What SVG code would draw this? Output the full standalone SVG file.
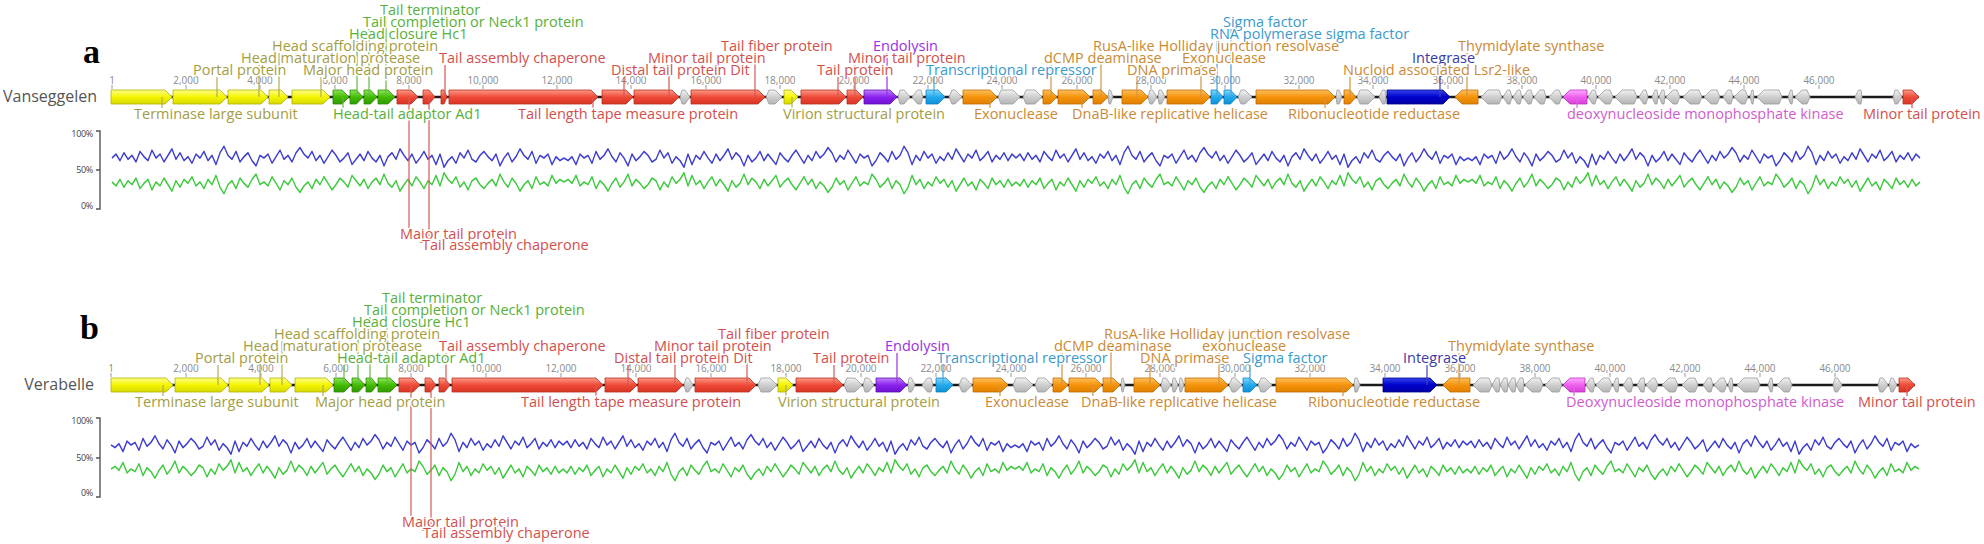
<svg xmlns="http://www.w3.org/2000/svg" xmlns:xlink="http://www.w3.org/1999/xlink" width="1984" height="544" viewBox="0 0 1984 544">
<style>
.lb{font-family:"Open Sans","DejaVu Sans",sans-serif;font-size:14.5px;stroke:#fff;stroke-width:3px;paint-order:stroke;stroke-linejoin:round}
.ol{fill:#a39d3f}.gn{fill:#57b03a}.rd{fill:#d2504c}.pu{fill:#9a30e0}.cy{fill:#3b99cc}.or{fill:#cb8a36}.bl{fill:#3a3aa8}.mg{fill:#cf5ccf}
.tk{font-family:"Open Sans","DejaVu Sans",sans-serif;font-size:10px;fill:#8a8a8a;text-anchor:middle}
.nm{font-family:"Open Sans","DejaVu Sans",sans-serif;font-size:16px;fill:#555;text-anchor:end}
.pl{font-family:"Liberation Serif","Times New Roman",serif;font-size:34px;font-weight:bold;fill:#000}
.pc{font-family:"Open Sans","DejaVu Sans",sans-serif;font-size:9px;fill:#444;text-anchor:end;letter-spacing:-0.3px}
.y,.g,.r,.x,.o,.c,.b,.p,.m{stroke-width:.8;stroke-linejoin:round}
.y{fill:url(#gy);stroke:#b3b300}.g{fill:url(#gg);stroke:#2e8a00}.r{fill:url(#gr);stroke:#b83020}.x{fill:url(#gx);stroke:#9a9a9a}.o{fill:url(#go);stroke:#c06d00}.c{fill:url(#gc);stroke:#1280c0}.b{fill:url(#gb);stroke:#000080}.p{fill:url(#gp);stroke:#6010b0}.m{fill:url(#gm);stroke:#c030c0}
.ld{fill:none;stroke-width:1.2}
.bk{stroke:#1a1a1a;stroke-width:2.5}
.tm{stroke:#999;stroke-width:1;fill:none}
.br{fill:none;stroke:#555;stroke-width:1.4}
.bu{fill:none;stroke:#3b3bd0;stroke-width:1.3;stroke-linejoin:round;vector-effect:non-scaling-stroke}
.gu{fill:none;stroke:#3cc83c;stroke-width:1.3;stroke-linejoin:round;vector-effect:non-scaling-stroke}
</style>
<defs>
<linearGradient id="gy" x1="0" y1="0" x2="0" y2="1"><stop offset="0" stop-color="#ffff8a"/><stop offset=".5" stop-color="#f5f500"/><stop offset="1" stop-color="#d8d800"/></linearGradient>
<linearGradient id="gg" x1="0" y1="0" x2="0" y2="1"><stop offset="0" stop-color="#8ae85a"/><stop offset=".5" stop-color="#44bb00"/><stop offset="1" stop-color="#2f9a00"/></linearGradient>
<linearGradient id="gr" x1="0" y1="0" x2="0" y2="1"><stop offset="0" stop-color="#ff9a88"/><stop offset=".5" stop-color="#f04a38"/><stop offset="1" stop-color="#d83424"/></linearGradient>
<linearGradient id="gx" x1="0" y1="0" x2="0" y2="1"><stop offset="0" stop-color="#f2f2f2"/><stop offset=".5" stop-color="#cfcfcf"/><stop offset="1" stop-color="#b5b5b5"/></linearGradient>
<linearGradient id="go" x1="0" y1="0" x2="0" y2="1"><stop offset="0" stop-color="#ffc060"/><stop offset=".5" stop-color="#f5940a"/><stop offset="1" stop-color="#e08000"/></linearGradient>
<linearGradient id="gc" x1="0" y1="0" x2="0" y2="1"><stop offset="0" stop-color="#80d8ff"/><stop offset=".5" stop-color="#22aaee"/><stop offset="1" stop-color="#1090d8"/></linearGradient>
<linearGradient id="gb" x1="0" y1="0" x2="0" y2="1"><stop offset="0" stop-color="#3344ee"/><stop offset=".5" stop-color="#0000cc"/><stop offset="1" stop-color="#0000a8"/></linearGradient>
<linearGradient id="gp" x1="0" y1="0" x2="0" y2="1"><stop offset="0" stop-color="#c080ff"/><stop offset=".5" stop-color="#8a22ee"/><stop offset="1" stop-color="#7010d0"/></linearGradient>
<linearGradient id="gm" x1="0" y1="0" x2="0" y2="1"><stop offset="0" stop-color="#ffaaff"/><stop offset=".5" stop-color="#f060f0"/><stop offset="1" stop-color="#d840d8"/></linearGradient>
<path id="nz" d="M0,0L4,-3 8,2 12,-4 16,1 20,-2 24,3 28,-5 32,-1 36,2 40,-6 44,0 48,-3 52,3 56,-2 60,-7 64,1 68,-4 72,2 76,-1 80,4 84,-3 88,0 92,-5 96,2 100,-2 104,5 108,-4 112,-9 116,-2 120,1 124,-5 128,3 132,-1 136,-4 140,2 144,6 148,-2 152,0 156,-3 160,4 164,-1 168,-6 172,1 176,-2 180,3 184,-4 188,-8 192,-3 196,0 200,-5 204,2 208,-2 212,4 216,-1 220,-6 224,-2 228,3 232,0 236,-4 240,5 244,1 248,-3 252,2 256,-5 260,0 264,3 268,-2 272,6 276,-1 280,-4 284,1 288,-7 292,-2 296,2 300,-3 304,4 308,0 312,-5 316,1 320,-2 324,5 328,-3 332,7 336,2 340,-1 344,4 348,-4 352,0 356,-6 360,1 364,3 368,-2 372,-5 376,-1 380,2 384,-3 388,6 392,0 396,-4 400,3 404,-1 408,-7 412,-2 416,1 420,-5 424,4 428,-2 432,0 436,-3 440,5 444,-1 448,2 452,0"/>
</defs>
<rect width="1984" height="544" fill="#fff"/>

<!-- ================= PANEL A ================= -->
<g id="panel-a">
<text class="pl" x="83" y="63">a</text>
<text class="nm" x="97" y="102">Vanseggelen</text>
<g id="a-ruler">
<path class="tm" d="M112,85V89M186,85V89M260,85V89M335,85V89M409,85V89M483,85V89M557,85V89M631,85V89M706,85V89M780,85V89M854,85V89M928,85V89M1002,85V89M1077,85V89M1151,85V89M1225,85V89M1299,85V89M1373,85V89M1448,85V89M1522,85V89M1596,85V89M1670,85V89M1744,85V89M1819,85V89"/>
<text class="tk" y="84"><tspan x="112">1</tspan><tspan x="186">2,000</tspan><tspan x="260">4,000</tspan><tspan x="335">6,000</tspan><tspan x="409">8,000</tspan><tspan x="483">10,000</tspan><tspan x="557">12,000</tspan><tspan x="631">14,000</tspan><tspan x="706">16,000</tspan><tspan x="780">18,000</tspan><tspan x="854">20,000</tspan><tspan x="928">22,000</tspan><tspan x="1002">24,000</tspan><tspan x="1077">26,000</tspan><tspan x="1151">28,000</tspan><tspan x="1225">30,000</tspan><tspan x="1299">32,000</tspan><tspan x="1373">34,000</tspan><tspan x="1448">36,000</tspan><tspan x="1522">38,000</tspan><tspan x="1596">40,000</tspan><tspan x="1670">42,000</tspan><tspan x="1744">44,000</tspan><tspan x="1819">46,000</tspan></text>
</g>
<line class="bk" x1="111" y1="97" x2="1919" y2="97"/>
<g id="a-genes">
<g id="a-n1"><path class="y" d="M111,90H165L172,97L165,104H111Z"/></g>
<g id="a-n2"><path class="y" d="M173,90H220L227,97L220,104H173Z"/></g>
<g id="a-n3"><path class="y" d="M228,90H261L268,97L261,104H228Z"/></g>
<g id="a-n4"><path class="y" d="M269,90H281L288,97L281,104H269Z"/></g>
<g id="a-n5"><path class="y" d="M292,90H323L330,97L323,104H292Z"/></g>
<g id="a-n6"><path class="g" d="M333,90H342L349,97L342,104H333Z"/></g>
<g id="a-n7"><path class="g" d="M350,90H356.5L363,97L356.5,104H350Z"/></g>
<g id="a-n8"><path class="g" d="M364,90H370.5L377,97L370.5,104H364Z"/></g>
<g id="a-n9"><path class="g" d="M378,90H388L395,97L388,104H378Z"/></g>
<g id="a-n10"><path class="r" d="M397,90H411L418,97L411,104H397Z"/></g>
<g id="a-n11"><path class="r" d="M423,90H429L435,97L429,104H423Z"/></g>
<g id="a-n12"><path class="r" d="M441,90H444L447,97L444,104H441Z"/></g>
<g id="a-n13"><path class="r" d="M449,90H591L598,97L591,104H449Z"/></g>
<g id="a-n14"><path class="r" d="M602,90H626L633,97L626,104H602Z"/></g>
<g id="a-n15"><path class="r" d="M634,90H672L679,97L672,104H634Z"/></g>
<g id="a-n16"><path class="x" d="M680,97L682,90H685L690,97L685,104H682Z"/></g>
<g id="a-n17"><path class="r" d="M691,90H758L765,97L758,104H691Z"/></g>
<g id="a-n18"><path class="x" d="M766,97L769,90H775L782,97L775,104H769Z"/></g>
<g id="a-n19"><path class="y" d="M784,90H791L798,97L791,104H784Z"/></g>
<g id="a-n20"><path class="r" d="M801,90H839L846,97L839,104H801Z"/></g>
<g id="a-n21"><path class="r" d="M847,90H856L863,97L856,104H847Z"/></g>
<g id="a-n22"><path class="p" d="M864,90H890L897,97L890,104H864Z"/></g>
<g id="a-n23"><path class="x" d="M898,97L900,90H904L910,97L904,104H900Z"/></g>
<g id="a-n24"><path class="x" d="M923,97L921,90H917.5L912,97L917.5,104H921Z"/></g>
<g id="a-n25"><path class="c" d="M926,90H938L945,97L938,104H926Z"/></g>
<g id="a-n26"><path class="x" d="M949,97L952,90H955L962,97L955,104H952Z"/></g>
<g id="a-n27"><path class="o" d="M963,90H990L997,97L990,104H963Z"/></g>
<g id="a-n28"><path class="x" d="M998,97L1001,90H1013L1020,97L1013,104H1001Z"/></g>
<g id="a-n29"><path class="x" d="M1023,97L1026,90H1035L1042,97L1035,104H1026Z"/></g>
<g id="a-n30"><path class="o" d="M1043,90H1050L1057,97L1050,104H1043Z"/></g>
<g id="a-n31"><path class="o" d="M1058,90H1083L1090,97L1083,104H1058Z"/></g>
<g id="a-n32"><path class="o" d="M1093,90H1101L1108,97L1101,104H1093Z"/></g>
<g id="a-n33"><path class="x" d="M1108,97L1109,90H1110.5L1113,97L1110.5,104H1109Z"/></g>
<g id="a-n34"><path class="o" d="M1122,90H1141L1148,97L1141,104H1122Z"/></g>
<g id="a-n35"><path class="x" d="M1148,97L1150,90H1152.5L1157,97L1152.5,104H1150Z"/></g>
<g id="a-n36"><path class="x" d="M1158,97L1159,90H1161.5L1165,97L1161.5,104H1159Z"/></g>
<g id="a-n37"><path class="o" d="M1167,90H1203L1210,97L1203,104H1167Z"/></g>
<g id="a-n38"><path class="c" d="M1211,90H1217L1223,97L1217,104H1211Z"/></g>
<g id="a-n39"><path class="c" d="M1224,90H1230.5L1237,97L1230.5,104H1224Z"/></g>
<g id="a-n40"><path class="x" d="M1238,97L1241,90H1245L1252,97L1245,104H1241Z"/></g>
<g id="a-n41"><path class="o" d="M1256,90H1328L1335,97L1328,104H1256Z"/></g>
<g id="a-n42"><path class="x" d="M1336,97L1337,90H1339L1342,97L1339,104H1337Z"/></g>
<g id="a-n43"><path class="o" d="M1344,90H1350L1356,97L1350,104H1344Z"/></g>
<g id="a-n44"><path class="x" d="M1357,97L1360,90H1368L1375,97L1368,104H1360Z"/></g>
<g id="a-n45"><path class="x" d="M1386,97L1385,90H1382.5L1379,97L1382.5,104H1385Z"/></g>
<g id="a-n46"><path class="b" d="M1387,90H1443L1450,97L1443,104H1387Z"/></g>
<g id="a-n47"><path class="o" d="M1478,90H1462L1455,97L1462,104H1478Z"/></g>
<g id="a-n48"><path class="x" d="M1502,97L1499,90H1488L1481,97L1488,104H1499Z"/></g>
<g id="a-n49"><path class="x" d="M1512,97L1510,90H1507.5L1503,97L1507.5,104H1510Z"/></g>
<g id="a-n50"><path class="x" d="M1522,97L1520,90H1517.5L1513,97L1517.5,104H1520Z"/></g>
<g id="a-n51"><path class="x" d="M1533,97L1531,90H1528L1523,97L1528,104H1531Z"/></g>
<g id="a-n52"><path class="x" d="M1546,97L1544,90H1540L1534,97L1540,104H1544Z"/></g>
<g id="a-n53"><path class="x" d="M1562,97L1559,90H1555.5L1549,97L1555.5,104H1559Z"/></g>
<g id="a-n54"><path class="m" d="M1587,90H1570L1563,97L1570,104H1587Z"/></g>
<g id="a-n55"><path class="x" d="M1597,97L1595,90H1592.5L1588,97L1592.5,104H1595Z"/></g>
<g id="a-n56"><path class="x" d="M1613,97L1610,90H1605L1598,97L1605,104H1610Z"/></g>
<g id="a-n57"><path class="x" d="M1637,97L1634,90H1622L1615,97L1622,104H1634Z"/></g>
<g id="a-n58"><path class="x" d="M1648,97L1646,90H1643.5L1639,97L1643.5,104H1646Z"/></g>
<g id="a-n59"><path class="x" d="M1658,97L1657,90H1655L1652,97L1655,104H1657Z"/></g>
<g id="a-n60"><path class="x" d="M1665,97L1664,90H1662L1659,97L1662,104H1664Z"/></g>
<g id="a-n61"><path class="x" d="M1680,97L1677,90H1673L1666,97L1673,104H1677Z"/></g>
<g id="a-n62"><path class="x" d="M1702,97L1699,90H1690L1683,97L1690,104H1699Z"/></g>
<g id="a-n63"><path class="x" d="M1720,97L1717,90H1711L1704,97L1711,104H1717Z"/></g>
<g id="a-n64"><path class="x" d="M1733,97L1731,90H1728L1723,97L1728,104H1731Z"/></g>
<g id="a-n65"><path class="x" d="M1748,97L1745,90H1741L1734,97L1741,104H1745Z"/></g>
<g id="a-n66"><path class="x" d="M1754,97L1753,90H1752L1750,97L1752,104H1753Z"/></g>
<g id="a-n67"><path class="x" d="M1782,97L1779,90H1764L1757,97L1764,104H1779Z"/></g>
<g id="a-n68"><path class="x" d="M1793,97L1792,90H1790.5L1788,97L1790.5,104H1792Z"/></g>
<g id="a-n69"><path class="x" d="M1810,97L1807,90H1802L1795,97L1802,104H1807Z"/></g>
<g id="a-n70"><path class="x" d="M1862,97L1861,90H1858.5L1855,97L1858.5,104H1861Z"/></g>
<g id="a-n71"><path class="x" d="M1893,97L1895,90H1897.5L1902,97L1897.5,104H1895Z"/></g>
<g id="a-n72"><path class="r" d="M1903,90H1912L1919,97L1912,104H1903Z"/></g>
</g>
<g id="a-plot">
<path class="br" d="M96,131H100V209H96M96,170H100"/>
<text class="pc" x="93" y="137">100%</text>
<text class="pc" x="93" y="173">50%</text>
<text class="pc" x="93" y="209">0%</text>
<use xlink:href="#nz" class="bu" transform="translate(112,158) scale(1,1.3)"/>
<use xlink:href="#nz" class="bu" transform="translate(1016,158) scale(-1,1.3)"/>
<use xlink:href="#nz" class="bu" transform="translate(1016,158) scale(1,1.3)"/>
<use xlink:href="#nz" class="bu" transform="translate(1920,158) scale(-1,1.3)"/>
<use xlink:href="#nz" class="gu" transform="translate(112,182) scale(1,-1.3)"/>
<use xlink:href="#nz" class="gu" transform="translate(1016,182) scale(-1,-1.3)"/>
<use xlink:href="#nz" class="gu" transform="translate(1016,182) scale(1,-1.3)"/>
<use xlink:href="#nz" class="gu" transform="translate(1920,182) scale(-1,-1.3)"/>
</g>
<g id="a-connectors">
<path class="ld" stroke="#b3ac55" d="M162,97V108M217,97V77M321,97V77M259,97V65M279,97V53M792,97V108"/>
<path class="ld" stroke="#66b848" d="M386,97V17M369,97V29M357,97V41M343,97V108"/>
<path class="ld" stroke="#d65a56" d="M445,97V65M409,97V228M429,97V239M593,97V108M624,97V77M669,97V65M755,97V53M838,97V77M855,97V65M1912,97V108"/>
<path class="ld" stroke="#9a30e0" d="M887,97V53"/>
<path class="ld" stroke="#4aa3d3" d="M934,97V77M1217,97V41M1231,97V29"/>
<path class="ld" stroke="#d09445" d="M990,97V108M1082,97V108M1051,97V65M1101,97V53M1137,97V77M1201,97V65M1325,97V108M1350,97V77M1467,97V53"/>
<path class="ld" stroke="#4040b0" d="M1440,97V65"/>
<path class="ld" stroke="#d46ad4" d="M1577,97V108"/>
</g>
<g id="a-labels">
<text class="lb gn" x="380" y="15">Tail terminator</text>
<text class="lb gn" x="363" y="27">Tail completion or Neck1 protein</text>
<text class="lb cy" x="1223" y="27">Sigma factor</text>
<text class="lb gn" x="349" y="39">Head closure Hc1</text>
<text class="lb cy" x="1210" y="39">RNA polymerase sigma factor</text>
<text class="lb ol" x="272" y="51">Head scaffolding protein</text>
<text class="lb rd" x="721" y="51">Tail fiber protein</text>
<text class="lb pu" x="873" y="51">Endolysin</text>
<text class="lb or" x="1093" y="51">RusA-like Holliday junction resolvase</text>
<text class="lb or" x="1458" y="51">Thymidylate synthase</text>
<text class="lb ol" x="241" y="63">Head maturation protease</text>
<text class="lb rd" x="439" y="63">Tail assembly chaperone</text>
<text class="lb rd" x="648" y="63">Minor tail protein</text>
<text class="lb rd" x="848" y="63">Minor tail protein</text>
<text class="lb or" x="1044" y="63">dCMP deaminase</text>
<text class="lb or" x="1182" y="63">Exonuclease</text>
<text class="lb bl" x="1412" y="63">Integrase</text>
<text class="lb ol" x="193" y="75">Portal protein</text>
<text class="lb ol" x="303" y="75">Major head protein</text>
<text class="lb rd" x="611" y="75">Distal tail protein Dit</text>
<text class="lb rd" x="817" y="75">Tail protein</text>
<text class="lb cy" x="926" y="75">Transcriptional repressor</text>
<text class="lb or" x="1127" y="75">DNA primase</text>
<text class="lb or" x="1343" y="75">Nucloid associated Lsr2-like</text>
<text class="lb ol" x="134" y="119">Terminase large subunit</text>
<text class="lb gn" x="333" y="119">Head-tail adaptor Ad1</text>
<text class="lb rd" x="518" y="119">Tail length tape measure protein</text>
<text class="lb ol" x="783" y="119">Virion structural protein</text>
<text class="lb or" x="974" y="119">Exonuclease</text>
<text class="lb or" x="1072" y="119">DnaB-like replicative helicase</text>
<text class="lb or" x="1288" y="119">Ribonucleotide reductase</text>
<text class="lb mg" x="1567" y="119">deoxynucleoside monophosphate kinase</text>
<text class="lb rd" x="1863" y="119">Minor tail protein</text>
<text class="lb rd" x="400" y="239">Major tail protein</text>
<text class="lb rd" x="422" y="250">Tail assembly chaperone</text>
</g>
</g>

<!-- ================= PANEL B ================= -->
<g id="panel-b" transform="translate(0,288)">
<text class="pl" x="80" y="51">b</text>
<text class="nm" x="94" y="102">Verabelle</text>
<g id="b-ruler">
<path class="tm" d="M111,85V89M186,85V89M261,85V89M336,85V89M411,85V89M486,85V89M561,85V89M636,85V89M711,85V89M786,85V89M861,85V89M936,85V89M1011,85V89M1086,85V89M1160,85V89M1235,85V89M1310,85V89M1385,85V89M1460,85V89M1535,85V89M1610,85V89M1685,85V89M1760,85V89M1835,85V89"/>
<text class="tk" y="84"><tspan x="111">1</tspan><tspan x="186">2,000</tspan><tspan x="261">4,000</tspan><tspan x="336">6,000</tspan><tspan x="411">8,000</tspan><tspan x="486">10,000</tspan><tspan x="561">12,000</tspan><tspan x="636">14,000</tspan><tspan x="711">16,000</tspan><tspan x="786">18,000</tspan><tspan x="861">20,000</tspan><tspan x="936">22,000</tspan><tspan x="1011">24,000</tspan><tspan x="1086">26,000</tspan><tspan x="1160">28,000</tspan><tspan x="1235">30,000</tspan><tspan x="1310">32,000</tspan><tspan x="1385">34,000</tspan><tspan x="1460">36,000</tspan><tspan x="1535">38,000</tspan><tspan x="1610">40,000</tspan><tspan x="1685">42,000</tspan><tspan x="1760">44,000</tspan><tspan x="1835">46,000</tspan></text>
</g>
<line class="bk" x1="111" y1="97" x2="1915" y2="97"/>
<g id="b-genes">
<g id="b-n1"><path class="y" d="M111,90H166L173,97L166,104H111Z"/></g>
<g id="b-n2"><path class="y" d="M175,90H221L228,97L221,104H175Z"/></g>
<g id="b-n3"><path class="y" d="M229,90H262L269,97L262,104H229Z"/></g>
<g id="b-n4"><path class="y" d="M270,90H285L292,97L285,104H270Z"/></g>
<g id="b-n5"><path class="y" d="M295,90H326L333,97L326,104H295Z"/></g>
<g id="b-n6"><path class="g" d="M334,90H344L351,97L344,104H334Z"/></g>
<g id="b-n7"><path class="g" d="M352,90H358.5L365,97L358.5,104H352Z"/></g>
<g id="b-n8"><path class="g" d="M366,90H371.5L377,97L371.5,104H366Z"/></g>
<g id="b-n9"><path class="g" d="M378,90H390L397,97L390,104H378Z"/></g>
<g id="b-n10"><path class="r" d="M399,90H413L420,97L413,104H399Z"/></g>
<g id="b-n11"><path class="r" d="M425,90H430.5L436,97L430.5,104H425Z"/></g>
<g id="b-n12"><path class="r" d="M439,90H444.5L450,97L444.5,104H439Z"/></g>
<g id="b-n13"><path class="r" d="M452,90H596L603,97L596,104H452Z"/></g>
<g id="b-n14"><path class="r" d="M605,90H630L637,97L630,104H605Z"/></g>
<g id="b-n15"><path class="r" d="M638,90H676L683,97L676,104H638Z"/></g>
<g id="b-n16"><path class="x" d="M684,97L686,90H688.5L693,97L688.5,104H686Z"/></g>
<g id="b-n17"><path class="r" d="M695,90H749L756,97L749,104H695Z"/></g>
<g id="b-n18"><path class="x" d="M758,97L761,90H770L777,97L770,104H761Z"/></g>
<g id="b-n19"><path class="y" d="M778,90H786L793,97L786,104H778Z"/></g>
<g id="b-n20"><path class="r" d="M796,90H836L843,97L836,104H796Z"/></g>
<g id="b-n21"><path class="x" d="M844,97L847,90H855L862,97L855,104H847Z"/></g>
<g id="b-n22"><path class="x" d="M863,97L865,90H868.5L874,97L868.5,104H865Z"/></g>
<g id="b-n23"><path class="p" d="M876,90H900L907,97L900,104H876Z"/></g>
<g id="b-n24"><path class="x" d="M908,97L909,90H911.5L915,97L911.5,104H909Z"/></g>
<g id="b-n25"><path class="x" d="M933,97L931,90H927.5L922,97L927.5,104H931Z"/></g>
<g id="b-n26"><path class="c" d="M936,90H946L953,97L946,104H936Z"/></g>
<g id="b-n27"><path class="x" d="M959,97L962,90H965.5L972,97L965.5,104H962Z"/></g>
<g id="b-n28"><path class="o" d="M973,90H1001L1008,97L1001,104H973Z"/></g>
<g id="b-n29"><path class="x" d="M1013,97L1016,90H1026L1033,97L1026,104H1016Z"/></g>
<g id="b-n30"><path class="x" d="M1035,97L1038,90H1045L1052,97L1045,104H1038Z"/></g>
<g id="b-n31"><path class="o" d="M1053,90H1061L1068,97L1061,104H1053Z"/></g>
<g id="b-n32"><path class="o" d="M1069,90H1095L1102,97L1095,104H1069Z"/></g>
<g id="b-n33"><path class="o" d="M1103,90H1113L1120,97L1113,104H1103Z"/></g>
<g id="b-n34"><path class="x" d="M1121,97L1122,90H1123L1125,97L1123,104H1122Z"/></g>
<g id="b-n35"><path class="o" d="M1134,90H1153L1160,97L1153,104H1134Z"/></g>
<g id="b-n36"><path class="x" d="M1161,97L1163,90H1166L1171,97L1166,104H1163Z"/></g>
<g id="b-n37"><path class="x" d="M1172,97L1173,90H1175L1178,97L1175,104H1173Z"/></g>
<g id="b-n38"><path class="x" d="M1179,97L1180,90H1181.5L1184,97L1181.5,104H1180Z"/></g>
<g id="b-n39"><path class="o" d="M1185,90H1221L1228,97L1221,104H1185Z"/></g>
<g id="b-n40"><path class="x" d="M1229,97L1232,90H1235.5L1242,97L1235.5,104H1232Z"/></g>
<g id="b-n41"><path class="c" d="M1243,90H1250L1257,97L1250,104H1243Z"/></g>
<g id="b-n42"><path class="x" d="M1258,97L1261,90H1265L1272,97L1265,104H1261Z"/></g>
<g id="b-n43"><path class="o" d="M1276,90H1346L1353,97L1346,104H1276Z"/></g>
<g id="b-n44"><path class="x" d="M1354,97L1355,90H1357L1360,97L1357,104H1355Z"/></g>
<g id="b-n45"><path class="b" d="M1383,90H1430L1437,97L1430,104H1383Z"/></g>
<g id="b-n46"><path class="o" d="M1470,90H1450L1443,97L1450,104H1470Z"/></g>
<g id="b-n47"><path class="x" d="M1492,97L1489,90H1480L1473,97L1480,104H1489Z"/></g>
<g id="b-n48"><path class="x" d="M1500,97L1499,90H1496L1492,97L1496,104H1499Z"/></g>
<g id="b-n49"><path class="x" d="M1508,97L1507,90H1504L1500,97L1504,104H1507Z"/></g>
<g id="b-n50"><path class="x" d="M1516,97L1515,90H1512L1508,97L1512,104H1515Z"/></g>
<g id="b-n51"><path class="x" d="M1524,97L1523,90H1520L1516,97L1520,104H1523Z"/></g>
<g id="b-n52"><path class="x" d="M1543,97L1540,90H1532L1525,97L1532,104H1540Z"/></g>
<g id="b-n53"><path class="x" d="M1562,97L1559,90H1552L1545,97L1552,104H1559Z"/></g>
<g id="b-n54"><path class="m" d="M1585,90H1570L1563,97L1570,104H1585Z"/></g>
<g id="b-n55"><path class="x" d="M1595,97L1593,90H1590.5L1586,97L1590.5,104H1593Z"/></g>
<g id="b-n56"><path class="x" d="M1612,97L1609,90H1603L1596,97L1603,104H1609Z"/></g>
<g id="b-n57"><path class="x" d="M1619,97L1618,90H1616L1613,97L1616,104H1618Z"/></g>
<g id="b-n58"><path class="x" d="M1633,97L1631,90H1628L1623,97L1628,104H1631Z"/></g>
<g id="b-n59"><path class="x" d="M1645,97L1644,90H1641L1637,97L1641,104H1644Z"/></g>
<g id="b-n60"><path class="x" d="M1658,97L1655,90H1652.5L1646,97L1652.5,104H1655Z"/></g>
<g id="b-n61"><path class="x" d="M1678,97L1675,90H1669L1662,97L1669,104H1675Z"/></g>
<g id="b-n62"><path class="x" d="M1698,97L1695,90H1689L1682,97L1689,104H1695Z"/></g>
<g id="b-n63"><path class="x" d="M1713,97L1711,90H1708L1703,97L1708,104H1711Z"/></g>
<g id="b-n64"><path class="x" d="M1727,97L1724,90H1720.5L1714,97L1720.5,104H1724Z"/></g>
<g id="b-n65"><path class="x" d="M1733,97L1732,90H1730.5L1728,97L1730.5,104H1732Z"/></g>
<g id="b-n66"><path class="x" d="M1760,97L1757,90H1744L1737,97L1744,104H1757Z"/></g>
<g id="b-n67"><path class="x" d="M1773,97L1772,90H1770.5L1768,97L1770.5,104H1772Z"/></g>
<g id="b-n68"><path class="x" d="M1792,97L1789,90H1784L1777,97L1784,104H1789Z"/></g>
<g id="b-n69"><path class="x" d="M1833,97L1835,90H1837.5L1842,97L1837.5,104H1835Z"/></g>
<g id="b-n70"><path class="x" d="M1878,97L1880,90H1883L1888,97L1883,104H1880Z"/></g>
<g id="b-n71"><path class="x" d="M1889,97L1891,90H1893L1897,97L1893,104H1891Z"/></g>
<g id="b-n72"><path class="r" d="M1899,90H1908L1915,97L1908,104H1899Z"/></g>
</g>
<g id="b-plot">
<path class="br" d="M96,130H100V209H96M96,170H100"/>
<text class="pc" x="93" y="136">100%</text>
<text class="pc" x="93" y="173">50%</text>
<text class="pc" x="93" y="208">0%</text>
<use xlink:href="#nz" class="bu" transform="translate(563,157) scale(-1,1.3)"/>
<use xlink:href="#nz" class="bu" transform="translate(563,157) scale(1,1.3)"/>
<use xlink:href="#nz" class="bu" transform="translate(1467,157) scale(-1,1.3)"/>
<use xlink:href="#nz" class="bu" transform="translate(1467,157) scale(1,1.3)"/>
<use xlink:href="#nz" class="gu" transform="translate(563,181) scale(-1,-1.3)"/>
<use xlink:href="#nz" class="gu" transform="translate(563,181) scale(1,-1.3)"/>
<use xlink:href="#nz" class="gu" transform="translate(1467,181) scale(-1,-1.3)"/>
<use xlink:href="#nz" class="gu" transform="translate(1467,181) scale(1,-1.3)"/>
</g>
<g id="b-connectors">
<path class="ld" stroke="#b3ac55" d="M163,97V108M218,97V77M260,97V65M282,97V53M323,97V108M786,97V108"/>
<path class="ld" stroke="#66b848" d="M387,97V17M370,97V29M358,97V41M344,97V77"/>
<path class="ld" stroke="#d65a56" d="M411,97V228M431,97V239M446,97V65M596,97V108M628,97V77M675,97V65M747,97V53M834,97V77M1907,97V108"/>
<path class="ld" stroke="#9a30e0" d="M897,97V65"/>
<path class="ld" stroke="#4aa3d3" d="M943,97V77M1250,97V77"/>
<path class="ld" stroke="#d09445" d="M1000,97V108M1062,97V65M1093,97V108M1111,97V53M1150,97V77M1219,97V65M1343,97V108M1459,97V65"/>
<path class="ld" stroke="#4040b0" d="M1427,97V77"/>
<path class="ld" stroke="#d46ad4" d="M1574,97V108"/>
</g>
<g id="b-labels">
<text class="lb gn" x="382" y="15">Tail terminator</text>
<text class="lb gn" x="364" y="27">Tail completion or Neck1 protein</text>
<text class="lb gn" x="352" y="39">Head closure Hc1</text>
<text class="lb ol" x="274" y="51">Head scaffolding protein</text>
<text class="lb rd" x="718" y="51">Tail fiber protein</text>
<text class="lb or" x="1104" y="51">RusA-like Holliday junction resolvase</text>
<text class="lb ol" x="243" y="63">Head maturation protease</text>
<text class="lb rd" x="439" y="63">Tail assembly chaperone</text>
<text class="lb rd" x="654" y="63">Minor tail protein</text>
<text class="lb pu" x="885" y="63">Endolysin</text>
<text class="lb or" x="1054" y="63">dCMP deaminase</text>
<text class="lb or" x="1202" y="63">exonuclease</text>
<text class="lb or" x="1448" y="63">Thymidylate synthase</text>
<text class="lb ol" x="195" y="75">Portal protein</text>
<text class="lb gn" x="337" y="75">Head-tail adaptor Ad1</text>
<text class="lb rd" x="614" y="75">Distal tail protein Dit</text>
<text class="lb rd" x="813" y="75">Tail protein</text>
<text class="lb cy" x="937" y="75">Transcriptional repressor</text>
<text class="lb or" x="1140" y="75">DNA primase</text>
<text class="lb cy" x="1243" y="75">Sigma factor</text>
<text class="lb bl" x="1403" y="75">Integrase</text>
<text class="lb ol" x="135" y="119">Terminase large subunit</text>
<text class="lb ol" x="315" y="119">Major head protein</text>
<text class="lb rd" x="521" y="119">Tail length tape measure protein</text>
<text class="lb ol" x="778" y="119">Virion structural protein</text>
<text class="lb or" x="985" y="119">Exonuclease</text>
<text class="lb or" x="1081" y="119">DnaB-like replicative helicase</text>
<text class="lb or" x="1308" y="119">Ribonucleotide reductase</text>
<text class="lb mg" x="1566" y="119">Deoxynucleoside monophosphate kinase</text>
<text class="lb rd" x="1858" y="119">Minor tail protein</text>
<text class="lb rd" x="402" y="239">Major tail protein</text>
<text class="lb rd" x="423" y="250">Tail assembly chaperone</text>
</g>
</g>
</svg>
